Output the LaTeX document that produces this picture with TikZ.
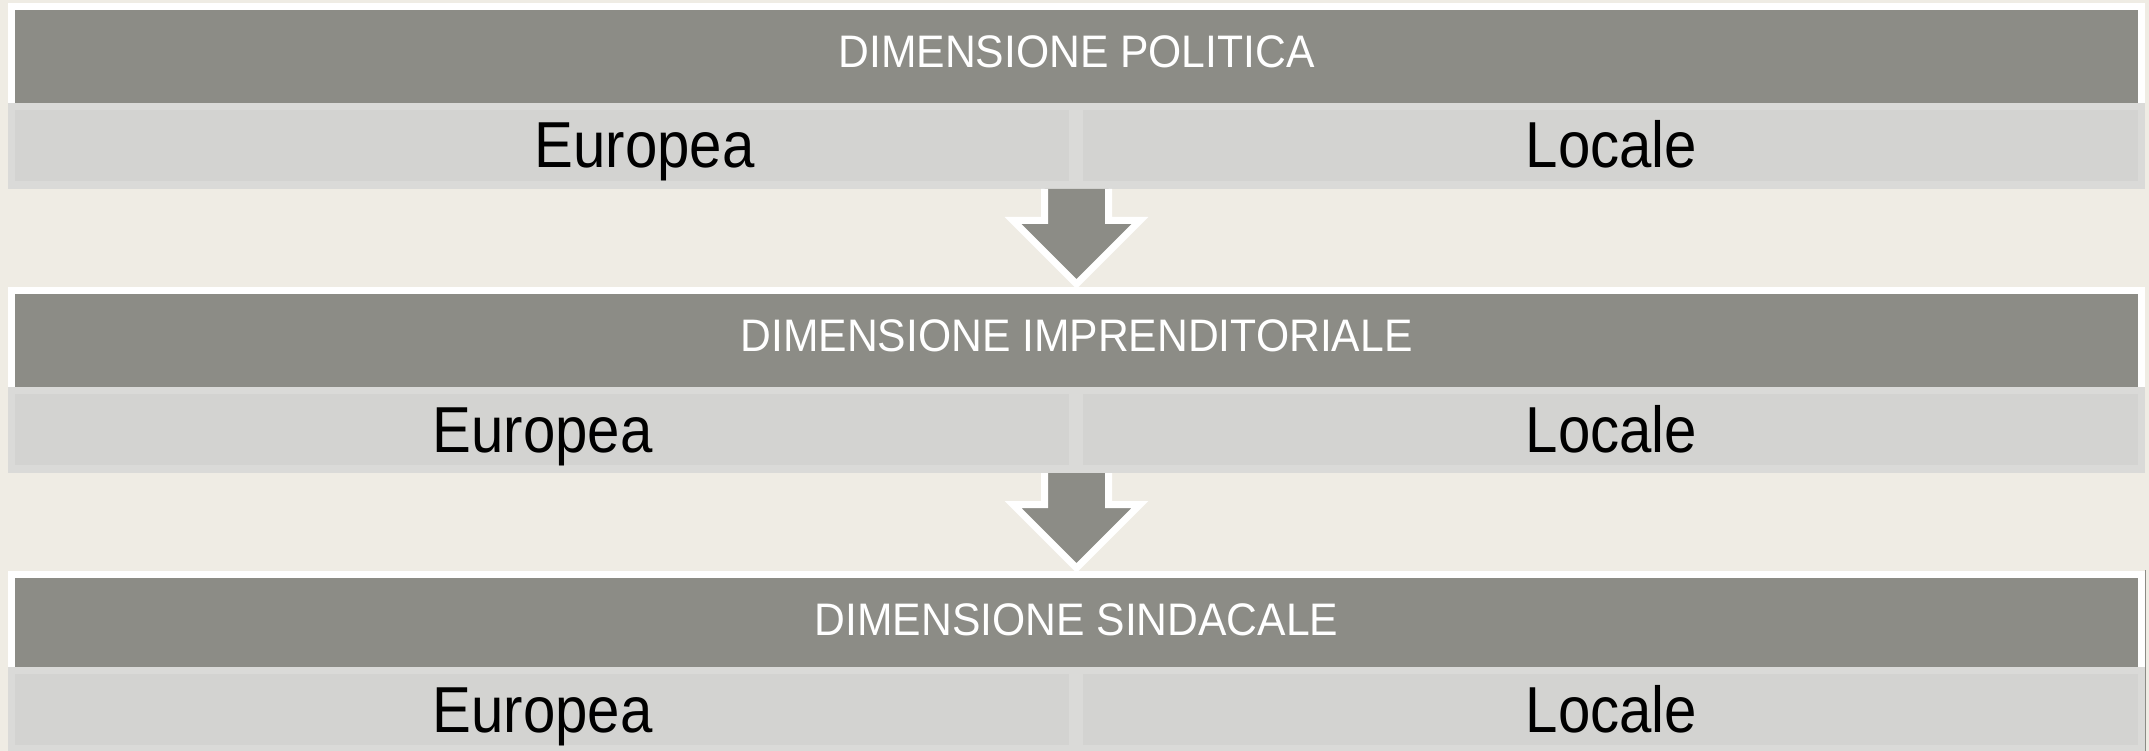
\documentclass[tikz,border=0pt]{standalone}
\usepackage{fontspec}
\usepackage{tikz}
\usepackage{xcolor}
\usetikzlibrary{calc}

\setmainfont{Liberation Sans}
\newfontfamily\headfont[FakeStretch=0.935]{Liberation Sans}
\newfontfamily\cellfont[FakeStretch=0.895]{Liberation Sans}

\definecolor{bgcream}{RGB}{239,236,228}
\definecolor{headgray}{RGB}{140,140,134}
\definecolor{bandgray}{RGB}{218,218,216}
\definecolor{cellgray}{RGB}{211,211,209}

\begin{document}
\begin{tikzpicture}[
        x=1pt, y=-1pt,
        headtext/.style={font=\headfont\fontsize{45.6}{50}\selectfont, text=white, anchor=base, inner sep=0pt},
        celltext/.style={font=\cellfont\fontsize{65}{70}\selectfont, text=black, anchor=base, inner sep=0pt},
        bigarrow/.style={fill=headgray, draw=white, line width=7pt},
        declare function={
            xl = 8;
            xr = 2145;
            mid = 1076.5;
        }
    ]

        \fill[bgcream] (0,0) rectangle (2149,751);
        \useasboundingbox (0,0) rectangle (2149,751);

        % the three panels: white frame, grey title bar, band with two cells
        \foreach \t/\h/\ex/\name/\i in {3/93/644.5/POLITICA/1, 287/93/542.5/IMPRENDITORIALE/2, 571/89/542.5/SINDACALE/3} {
            \fill[white] (xl, \t) rectangle (xr, \t+7+\h);
            \fill[headgray] (xl+7, \t+7) rectangle (xr-7, \t+7+\h);
            \fill[bandgray] (xl, \t+7+\h) rectangle (xr, \t+93+\h);
            \fill[cellgray] (xl+7, \t+14+\h) rectangle (1069, \t+85+\h);
            \fill[cellgray] (1083, \t+14+\h) rectangle (xr-7, \t+85+\h);

            \coordinate (top\i) at (mid, \t);
            \coordinate (foot\i) at (mid, \t+93+\h);

            \node[headtext] (head\i) at (mid, \t+64.7) {DIMENSIONE \name};
            \node[celltext] (europea\i) at (\ex, \t+72+\h) {Europea};
            \node[celltext] (locale\i) at (1611.5, \t+72+\h) {Locale};
        }

        % block arrows from one band down to the next panel
        \foreach \a/\b in {1/2, 2/3} {
            \filldraw[bigarrow] ($(foot\a)+(-32,0)$) -- ++(0,31.5) -- ++(-31.5,0)
                -- ($(top\b)+(0,-3)$) -- ++(63.5,-63.5) -- ++(-31.5,0) -- ++(0,-31.5);
        }

        \draw[headgray, line width=1.2pt] (xr+0.6, 570) -- (xr+0.6, 751);
    \end{tikzpicture}
\end{document}
